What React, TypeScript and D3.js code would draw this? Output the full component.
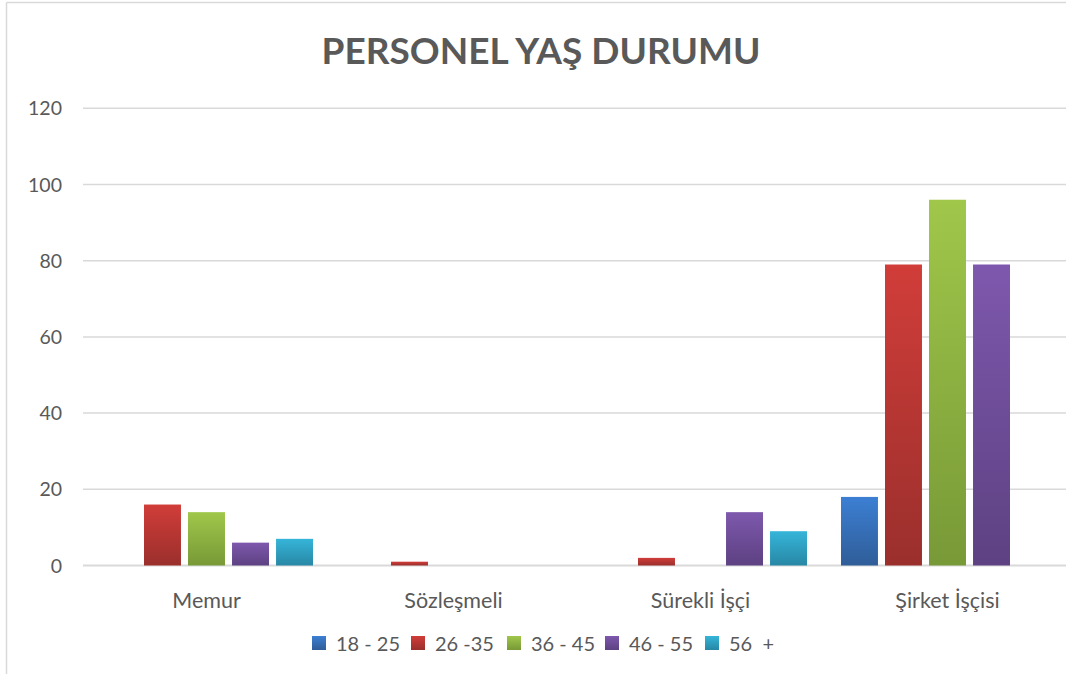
import React from "react";
import * as d3 from "d3";

const categories = ["Memur", "Sözleşmeli", "Sürekli İşçi", "Şirket İşçisi"];
const seriesNames = ["18 - 25", "26 -35", "36 - 45", "46 - 55", "56  +"];
const s18_25 = [0, 0, 0, 18];
const s26_35 = [16, 1, 2, 79];
const s36_45 = [14, 0, 0, 96];
const s46_55 = [6, 0, 14, 79];
const s56 = [7, 0, 9, 0];
const yTicks = [0, 20, 40, 60, 80, 100, 120];
const title = "PERSONEL YAŞ DURUMU";

const seriesValues = [s18_25, s26_35, s36_45, s46_55, s56];
const colorsTop = ["#3c7fd3", "#d13d39", "#a0c74a", "#7e58ad", "#35b5d9"];
const colorsBot = ["#2f5d98", "#9a2f2c", "#789937", "#5d4182", "#2887a5"];

const W = 1066;
const H = 674;
const FONT = "Lato, 'Open Sans', sans-serif";
const TEXT = "#595959";

export default function App() {
  const x0 = d3.scaleBand<string>().domain(categories).range([83, 1071]).padding(0);
  const x1 = d3
    .scaleBand<number>()
    .domain(d3.range(seriesNames.length))
    .range([0, x0.bandwidth()])
    .paddingInner(0.16)
    .paddingOuter(0.386);
  const y = d3.scaleLinear().domain([0, 120]).range([565.5, 108.3]);

  const legendX = [312, 411, 507, 605, 705];

  return (
    <svg
      width={W}
      height={H}
      style={{ position: "fixed", left: 0, top: 0, background: "#fff" }}
      fontFamily={FONT}
    >
      <defs>
        {seriesNames.map((_, i) => (
          <linearGradient key={i} id={`g${i}`} x1="0" y1="0" x2="0" y2="1">
            <stop offset="0%" stopColor={colorsTop[i]} />
            <stop offset="100%" stopColor={colorsBot[i]} />
          </linearGradient>
        ))}
      </defs>
      <rect x={0} y={0} width={W} height={H} fill="#fff" />
      {/* chart border */}
      <line x1={6.5} x2={6.5} y1={2.5} y2={H} stroke="#d9d9d9" strokeWidth={1.5} />
      <line x1={6.5} x2={W} y1={2.5} y2={2.5} stroke="#d9d9d9" strokeWidth={1.5} />

      <text
        x={541}
        y={64}
        textAnchor="middle"
        fontSize={37}
        fontWeight={700}
        fill={TEXT}
      >
        {title}
      </text>

      {yTicks.map((t) => (
        <g key={t}>
          <line x1={83} x2={W} y1={y(t)} y2={y(t)} stroke="#d9d9d9" strokeWidth={t === 0 ? 2 : 1.5} />
          <text x={62} y={y(t)} dy="0.36em" textAnchor="end" fontSize={19.5} fill={TEXT}>
            {t}
          </text>
        </g>
      ))}

      {categories.map((c, ci) => (
        <g key={c}>
          {seriesValues.map((vals, si) =>
            vals[ci] > 0 ? (
              <rect
                key={si}
                x={(x0(c) as number) + (x1(si) as number)}
                y={y(vals[ci])}
                width={x1.bandwidth()}
                height={y(0) - y(vals[ci])}
                fill={`url(#g${si})`}
              />
            ) : null
          )}
          <text
            x={(x0(c) as number) + x0.bandwidth() / 2}
            y={608}
            textAnchor="middle"
            fontSize={21.5}
            fill={TEXT}
          >
            {c}
          </text>
        </g>
      ))}

      {seriesNames.map((n, i) => (
        <g key={n}>
          <rect x={legendX[i]} y={636} width={14} height={14} fill={`url(#g${i})`} />
          <text x={legendX[i] + 24} y={650.5} fontSize={20} fill={TEXT} style={{ whiteSpace: "pre" }}>
            {n}
          </text>
        </g>
      ))}
    </svg>
  );
}
